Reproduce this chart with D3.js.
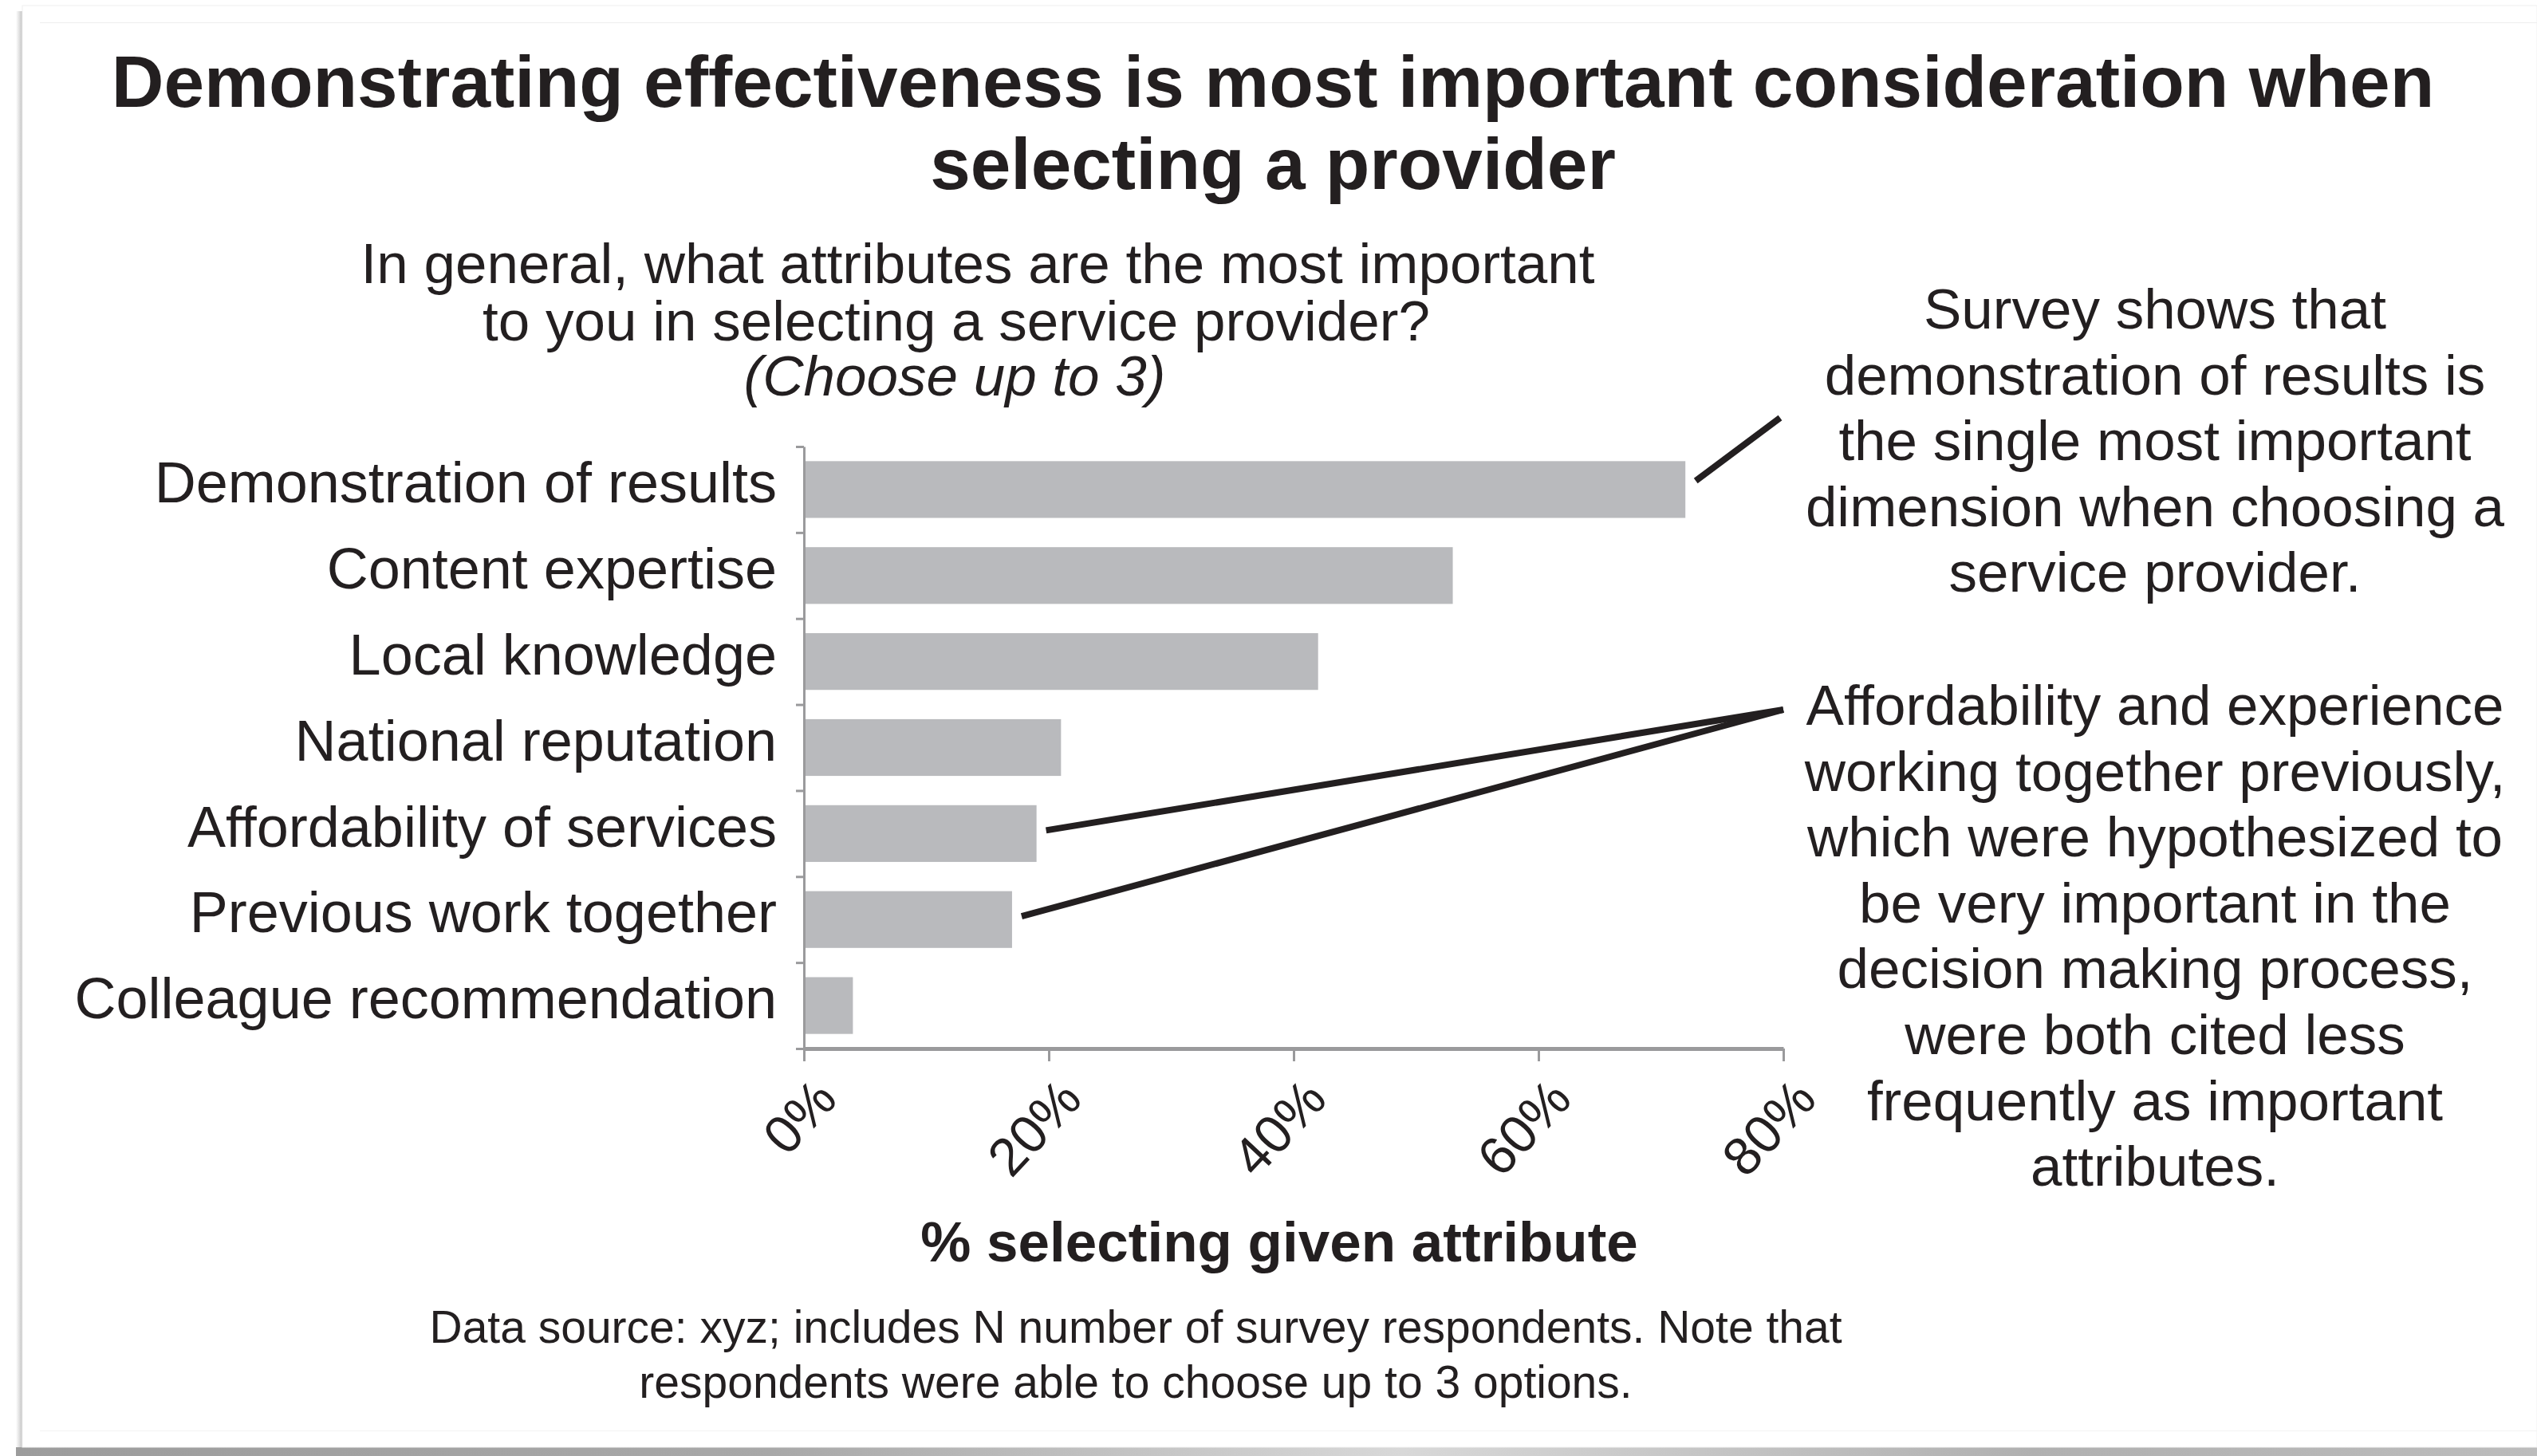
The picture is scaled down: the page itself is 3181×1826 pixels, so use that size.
<!DOCTYPE html>
<html>
<head>
<meta charset="utf-8">
<script src="https://cdn.jsdelivr.net/npm/d3@7"></script>
<style>
  html, body { margin: 0; padding: 0; background: #ffffff; }
  svg { display: block; }
  text { font-family: "Liberation Sans", Arial, Helvetica, sans-serif; fill: #231f20; }
</style>
</head>
<body>
<script>
// ---------------- DATA ----------------
const categories = [
  "Demonstration of results",
  "Content expertise",
  "Local knowledge",
  "National reputation",
  "Affordability of services",
  "Previous work together",
  "Colleague recommendation"
];
const values = [72, 53, 42, 21, 19, 17, 4];
const xTickValues = [0, 20, 40, 60, 80];
const xTickLabels = ["0%", "20%", "40%", "60%", "80%"];

const titleLines = [
  "Demonstrating effectiveness is most important consideration when",
  "selecting a provider"
];
const questionLines = [
  "In general, what attributes are the most important",
  "to you in selecting a service provider?"
];
const questionNote = "(Choose up to 3)";
const xAxisTitle = "% selecting given attribute";
const sourceLines = [
  "Data source: xyz; includes N number of survey respondents. Note that",
  "respondents were able to choose up to 3 options."
];
const callout1Lines = [
  "Survey shows that",
  "demonstration of results is",
  "the single most important",
  "dimension when choosing a",
  "service provider."
];
const callout1Targets = ["Demonstration of results"];
const callout2Lines = [
  "Affordability and experience",
  "working together previously,",
  "which were hypothesized to",
  "be very important in the",
  "decision making process,",
  "were both cited less",
  "frequently as important",
  "attributes."
];
const callout2Targets = ["Affordability of services", "Previous work together"];

// ---------------- LAYOUT ----------------
const W = 3181, H = 1826;
const ink = "#231f20";
const axisGray = "#9a9a9c";
const barFill = "#b9babd";
const fontFam = "'Liberation Sans', Arial, Helvetica, sans-serif";

const svg = d3.select("body").append("svg")
  .attr("width", W).attr("height", H);

const defs = svg.append("defs");
const gBottom = defs.append("linearGradient").attr("id", "shadowBottom")
  .attr("x1", "0").attr("x2", "1").attr("y1", "0").attr("y2", "0");
gBottom.append("stop").attr("offset", "0").attr("stop-color", "#9c9c9c");
gBottom.append("stop").attr("offset", "0.3").attr("stop-color", "#a8a8a8");
gBottom.append("stop").attr("offset", "0.55").attr("stop-color", "#d8d8d8");
gBottom.append("stop").attr("offset", "0.8").attr("stop-color", "#b0b0b0");
gBottom.append("stop").attr("offset", "1").attr("stop-color", "#bcbcbc");
const gLeft = defs.append("linearGradient").attr("id", "shadowLeft")
  .attr("x1", "0").attr("x2", "1").attr("y1", "0").attr("y2", "0");
gLeft.append("stop").attr("offset", "0").attr("stop-color", "#ffffff");
gLeft.append("stop").attr("offset", "1").attr("stop-color", "#c4c4c4");

// panel + shadow
svg.append("rect").attr("x", 20).attr("y", 14).attr("width", 8).attr("height", H - 14)
  .attr("fill", "url(#shadowLeft)");
svg.append("rect").attr("x", 20).attr("y", 1815).attr("width", W - 20).attr("height", H - 1815)
  .attr("fill", "url(#shadowBottom)");
svg.append("rect").attr("x", 28).attr("y", 7).attr("width", W - 28).attr("height", 1808)
  .attr("fill", "#ffffff").attr("stroke", "#f0f0f0").attr("stroke-width", 1);
svg.append("line").attr("x1", 50).attr("x2", W).attr("y1", 28.5).attr("y2", 28.5)
  .attr("stroke", "#eeeeee").attr("stroke-width", 1);
svg.append("line").attr("x1", 50).attr("x2", W).attr("y1", 1794.5).attr("y2", 1794.5)
  .attr("stroke", "#f2f2f2").attr("stroke-width", 1);

// title
svg.append("g").selectAll("text").data(titleLines).join("text")
  .attr("x", 1596).attr("y", (d, i) => 134 + i * 103)
  .attr("text-anchor", "middle")
  .attr("font-size", 91).attr("font-weight", "bold")
  .text(d => d);

// question
svg.append("text").attr("x", 1226).attr("y", 355).attr("text-anchor", "middle")
  .attr("font-size", 71).text(questionLines[0]);
svg.append("text").attr("x", 1199).attr("y", 427).attr("text-anchor", "middle")
  .attr("font-size", 71).text(questionLines[1]);
svg.append("text").attr("x", 1197).attr("y", 496).attr("text-anchor", "middle")
  .attr("font-size", 71).attr("font-style", "italic").text(questionNote);

// scales
const x = d3.scaleLinear().domain([0, 80]).range([1008, 2236]);
const y = d3.scaleBand().domain(categories).range([560, 1315])
  .paddingInner(0.34).paddingOuter(0.17);
const yEdge = d3.scaleLinear().domain([0, categories.length]).range([560, 1315]);

// bars
const data = categories.map((c, i) => ({ c, v: values[i] }));
svg.append("g").selectAll("rect").data(data).join("rect")
  .attr("x", x(0)).attr("y", d => y(d.c))
  .attr("width", d => x(d.v) - x(0)).attr("height", y.bandwidth())
  .attr("fill", barFill);

// y axis (ticks at band boundaries)
const yAxisG = svg.append("g").attr("transform", `translate(${x(0)},0)`)
  .call(d3.axisLeft(yEdge).tickValues(d3.range(0, categories.length + 1))
    .tickSize(10).tickSizeOuter(0).tickFormat(""));
yAxisG.select(".domain").attr("stroke", axisGray).attr("stroke-width", 3);
yAxisG.selectAll(".tick line").attr("stroke", axisGray).attr("stroke-width", 3);

// category labels
const yLab = svg.append("g").attr("transform", `translate(${x(0) - 34},0)`)
  .call(d3.axisLeft(y).tickSize(0).tickPadding(0));
yLab.select(".domain").remove();
yLab.selectAll(".tick text")
  .attr("font-size", 72).attr("fill", ink)
  .attr("font-family", fontFam)
  .attr("y", -9)
  .attr("dy", "0.35em");

// x axis
const xAxisG = svg.append("g").attr("transform", `translate(0,1315)`)
  .call(d3.axisBottom(x).tickValues(xTickValues).tickSize(16).tickSizeOuter(0)
    .tickFormat((d, i) => xTickLabels[i]));
xAxisG.select(".domain").attr("stroke", axisGray).attr("stroke-width", 5);
xAxisG.selectAll(".tick line").attr("stroke", axisGray).attr("stroke-width", 3);
xAxisG.selectAll(".tick text")
  .attr("font-size", 67).attr("fill", ink)
  .attr("font-family", fontFam)
  .attr("text-anchor", "end")
  .attr("y", 0).attr("dy", 0)
  .attr("transform", "translate(44,66) rotate(-47)");

// x axis title
svg.append("text").attr("x", 1604).attr("y", 1582).attr("text-anchor", "middle")
  .attr("font-size", 71).attr("font-weight", "bold").text(xAxisTitle);

// source note
svg.append("g").selectAll("text").data(sourceLines).join("text")
  .attr("x", 1424).attr("y", (d, i) => 1684 + i * 69)
  .attr("text-anchor", "middle").attr("font-size", 57)
  .text(d => d);

// callouts
svg.append("g").selectAll("text").data(callout1Lines).join("text")
  .attr("x", 2702).attr("y", (d, i) => 412 + i * 82.6)
  .attr("text-anchor", "middle").attr("font-size", 71).text(d => d);
svg.append("g").selectAll("text").data(callout2Lines).join("text")
  .attr("x", 2702).attr("y", (d, i) => 909 + i * 82.6)
  .attr("text-anchor", "middle").attr("font-size", 71).text(d => d);

// leader lines
const valOf = c => values[categories.indexOf(c)];
const leaders = svg.append("g").attr("stroke", ink).attr("stroke-width", 8).attr("fill", "none");
callout1Targets.forEach(c => {
  leaders.append("line")
    .attr("x1", x(valOf(c)) + 13).attr("y1", y(c) + y.bandwidth() / 2 - 11)
    .attr("x2", 2232).attr("y2", 524);
});
callout2Targets.forEach(c => {
  leaders.append("line")
    .attr("x1", x(valOf(c)) + 12).attr("y1", y(c) + y.bandwidth() / 2 - 4)
    .attr("x2", 2236).attr("y2", 890);
});
</script>
</body>
</html>
